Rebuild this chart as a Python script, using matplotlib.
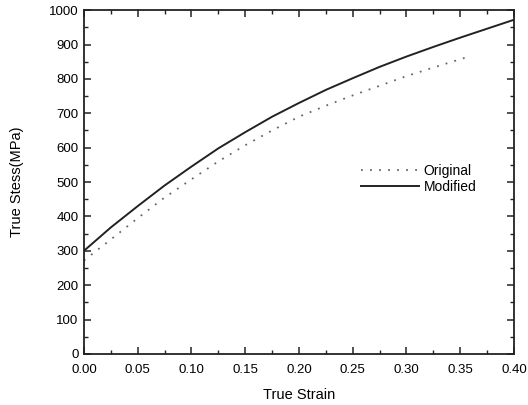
import matplotlib
matplotlib.use("Agg")
import matplotlib.pyplot as plt
from matplotlib.ticker import MultipleLocator

plt.rcParams['font.family'] = ['Liberation Sans', 'DejaVu Sans']

# data
strain_mod = [0.0, 0.025, 0.05, 0.075, 0.10, 0.125, 0.15, 0.175, 0.20, 0.225,
              0.25, 0.275, 0.30, 0.325, 0.35, 0.375, 0.40]
stress_mod = [300, 368, 430, 490, 545, 598, 645, 690, 730, 768,
              802, 835, 865, 893, 920, 946, 972]

strain_orig = [0.0, 0.025, 0.05, 0.075, 0.10, 0.125, 0.15, 0.175, 0.20, 0.225,
               0.25, 0.275, 0.30, 0.325, 0.356]
stress_orig = [272, 333, 395, 455, 508, 560, 607, 650, 690, 722,
               752, 780, 808, 833, 863]

fig = plt.figure(figsize=(5.28, 4.05), dpi=100)
ax = fig.add_axes([0.159, 0.126, 0.8145, 0.849])

ax.plot(strain_orig, stress_orig, color="#666666", lw=1.3, ls=(0, (1, 4)), label="Original")
ax.plot(strain_mod, stress_mod, color="#222222", lw=1.4, label="Modified")

ax.set_xlim(0, 0.40)
ax.set_ylim(0, 1000)
ax.xaxis.set_major_locator(MultipleLocator(0.05))
ax.xaxis.set_minor_locator(MultipleLocator(0.025))
ax.yaxis.set_major_locator(MultipleLocator(100))
ax.yaxis.set_minor_locator(MultipleLocator(50))
ax.xaxis.set_major_formatter(matplotlib.ticker.FormatStrFormatter("%.2f"))
ax.tick_params(which="both", direction="in", top=True, right=True, labelsize=9.5, color="#222222")
ax.tick_params(which="major", length=5, width=1.1)
ax.tick_params(which="minor", length=3, width=1.0)
ax.tick_params(axis="x", pad=7)
ax.tick_params(axis="y", pad=4)
for s in ax.spines.values():
    s.set_linewidth(1.3)
    s.set_color("#222222")

ax.set_xlabel("True Strain", fontsize=10.5, labelpad=9)
ax.set_ylabel("True Stess(MPa)", fontsize=10.5, labelpad=18)

ax.legend(loc="upper left", bbox_to_anchor=(0.615, 0.59), frameon=False, fontsize=10,
          handlelength=4.2, handletextpad=0.3, labelspacing=0.15)

fig.savefig("out.png", dpi=100)
